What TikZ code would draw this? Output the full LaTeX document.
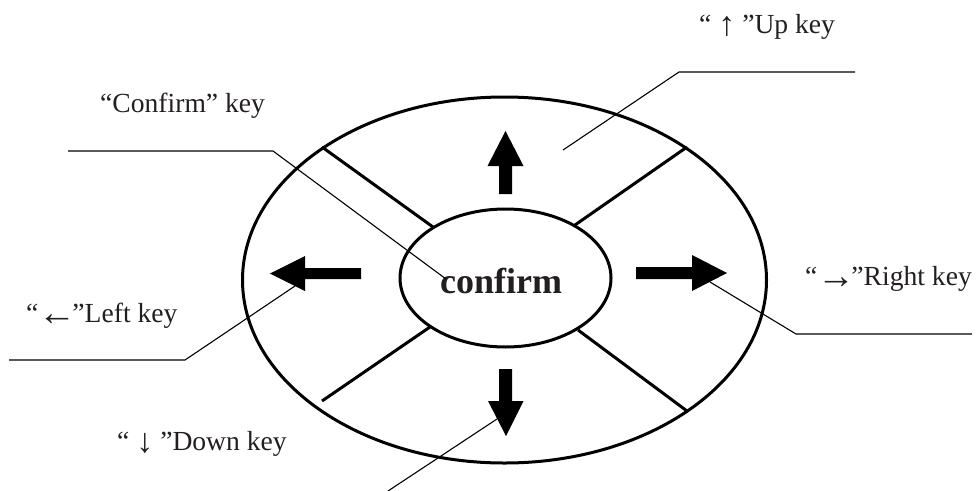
\documentclass[tikz,border=0pt]{standalone}
\usepackage{fontspec}
\setmainfont{Liberation Serif}
\usetikzlibrary{shapes.geometric}
\definecolor{txt}{HTML}{231F20}
\newcommand{\harr}[1]{\raisebox{-3pt}{\fontsize{38}{42}\selectfont #1}\kern-4pt}
\newcommand{\varr}[1]{\raisebox{-2pt}{\fontsize{34}{38}\selectfont #1}}
\begin{document}
\begin{tikzpicture}[x=1pt,y=-1pt,
  ring/.style={draw, line width=3pt, ellipse, inner sep=0pt},
  spoke/.style={line width=3pt},
  leader/.style={line width=1.1pt},
  blockarrow/.style={fill=black},
  lbl/.style={font=\fontsize{27.6}{33}\selectfont, text=txt, inner sep=0pt, anchor=base west},
]
\useasboundingbox (0,0) rectangle (979,490);
% rings
\node[ring, minimum width=524pt, minimum height=366pt] (outer) at (504.5,280) {};
\node[ring, minimum width=211pt, minimum height=138pt] (inner) at (505.5,278) {};
\node[font=\bfseries\fontsize{36}{40}\selectfont, text=txt, anchor=base, inner sep=0pt] (ctext) at (501,293) {confirm};
% spoke end points
\coordinate (s1o) at (322,147); \coordinate (s1i) at (433,227);
\coordinate (s2o) at (687,147); \coordinate (s2i) at (575,225);
\coordinate (s3o) at (322,401); \coordinate (s3i) at (430,327);
\coordinate (s4o) at (687,411); \coordinate (s4i) at (578,330);
\draw[spoke] (s1o) -- (s1i);
\draw[spoke] (s2o) -- (s2i);
\draw[spoke] (s3o) -- (s3i);
\draw[spoke] (s4o) -- (s4i);
% block arrows
\fill[blockarrow] (505.5,131) -- (523.5,166) -- (512,166) -- (512,194) -- (499,194) -- (499,166) -- (487.5,166) -- cycle;
\fill[blockarrow] (506,436) -- (523.5,401) -- (512,401) -- (512,369) -- (499,369) -- (499,401) -- (488,401) -- cycle;
\fill[blockarrow] (270,273.5) -- (305,256) -- (305,268) -- (361,268) -- (361,279) -- (305,279) -- (305,291) -- cycle;
\fill[blockarrow] (727,273) -- (692,255) -- (692,267) -- (636,267) -- (636,279) -- (692,279) -- (692,291) -- cycle;
% labels
\node[lbl] (lup) at (699,33) {“ \varr{↑} ”Up key};
\node[lbl] (lconf) at (100,112) {“Confirm” key};
\node[lbl] (lleft) at (26,322) {“\harr{←}”Left key};
\node[lbl] (lright) at (805,285) {“\harr{→}”Right key};
\node[lbl] (ldown) at (117,450) {“ \varr{↓} ”Down key};
% leader points
\coordinate (c0) at (68,151); \coordinate (c1) at (273,151); \coordinate (c2) at (446,279);
\coordinate (u0) at (855,72); \coordinate (u1) at (679,72); \coordinate (u2) at (563,150);
\coordinate (l0) at (9,360); \coordinate (l1) at (185,360); \coordinate (l2) at (295,286);
\coordinate (r0) at (710,282); \coordinate (r1) at (796,334); \coordinate (r2) at (972,334);
\coordinate (d0) at (388,491); \coordinate (d1) at (497,419);
\draw[leader] (c0) -- (c1) -- (c2);
\draw[leader] (u0) -- (u1) -- (u2);
\draw[leader] (l0) -- (l1) -- (l2);
\draw[leader] (r0) -- (r1) -- (r2);
\draw[leader] (d0) -- (d1);
\end{tikzpicture}
\end{document}
